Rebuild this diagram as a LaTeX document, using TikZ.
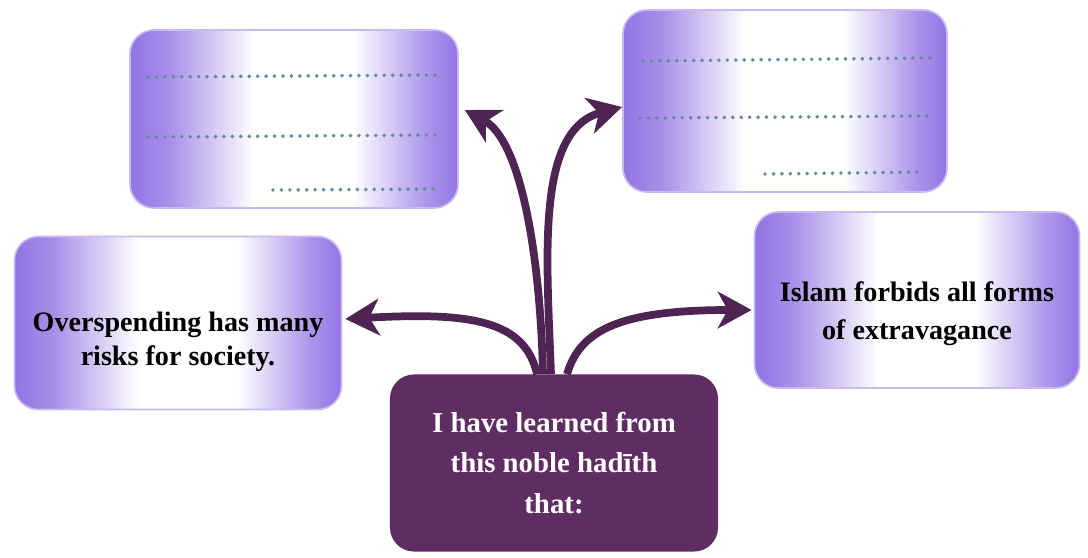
\documentclass[tikz,border=0pt]{standalone}
\usepackage{fontspec}
\setmainfont{Liberation Serif}
\usepackage{xcolor}
\usepackage{tikz}
\usetikzlibrary{calc}
\usetikzlibrary{arrows.meta}
\definecolor{lilac}{RGB}{146,116,228}
\definecolor{plum}{RGB}{94,45,98}
\definecolor{plumdark}{RGB}{78,36,82}
\definecolor{dotgray}{RGB}{100,138,156}
\pgfdeclarehorizontalshading{lilacshade}{100bp}{color(0bp)=(lilac); color(25bp)=(lilac); color(31bp)=(lilac!80); color(44bp)=(white); color(59bp)=(white); color(70bp)=(lilac!75); color(75bp)=(lilac); color(100bp)=(lilac)}
\tikzset{
	card/.style={rectangle, rounded corners=0.6cm, shading=lilacshade, draw=lilac!50, line width=1.2pt},
	cardtext/.style={align=center, font=\fontsize{20}{24}\selectfont\bfseries},
	dotline/.style={dotgray, line width=2.8pt, line cap=round, dash pattern=on 0pt off 6pt},
	branch/.style={plumdark, line width=5.5pt, -{Stealth[length=24pt,width=26pt,inset=7pt]}}
}

\begin{document}
\begin{tikzpicture}[x=0.025cm, y=-0.025cm]
\useasboundingbox (0,0) rectangle (1088,558);

       \node[card, minimum width=8.2cm, minimum height=4.45cm] (tl) at (294,119) {};
       \node[card, minimum width=8.1cm, minimum height=4.55cm] (tr) at (785,101) {};
       \node[card, minimum width=8.175cm, minimum height=4.325cm] (lm) at (178,323) {};
       \node[card, minimum width=8.125cm, minimum height=4.4cm] (rm) at (917,300) {};

       \node[rectangle, rounded corners=0.6cm, fill=plum, minimum width=8.2cm, minimum height=4.425cm] (ctr) at (554,463) {};

       % lines to write on
       \draw[dotline] (148,77) -- (440,75);
       \draw[dotline] (148,137) -- (442,135);
       \draw[dotline] (273,190) -- (440,189);

       \draw[dotline] (643,61) -- (930,58);
       \draw[dotline] (640,118) -- (935,116);
       \draw[dotline] (765,174) -- (925,172);

       \node[cardtext] (lmtext) at ($(lm.center)+(0,19)$) {Overspending has many\\risks for society.};
       \node[cardtext, font=\fontsize{20}{27}\selectfont\bfseries] (rmtext) at ($(rm.center)+(0,14)$) {Islam forbids all forms\\of extravagance};
       \node[cardtext, white, font=\fontsize{20.5}{28.5}\selectfont\bfseries] (ctrtext) at (ctr.center) {I have learned from\\this noble had\={\i}th\\that:};

       \draw[branch] ($(ctr.north)+(-11,0)$) .. controls (540,250) and (520,140) .. ($(tl.east)+(6,-9)$);
       \draw[branch] ($(ctr.north)+(-3,0)$) .. controls (547,260) and (535,130) .. ($(tr.west)+(0,6)$);
       \draw[branch] ($(ctr.north)+(-17,0)$) .. controls (525,320) and (470,312) .. ($(lm.east)+(3,-4)$);
       \draw[branch] ($(ctr.north)+(13,0)$) .. controls (580,330) and (620,310) .. ($(rm.west)+(-2,10)$);
\end{tikzpicture}
\end{document}
